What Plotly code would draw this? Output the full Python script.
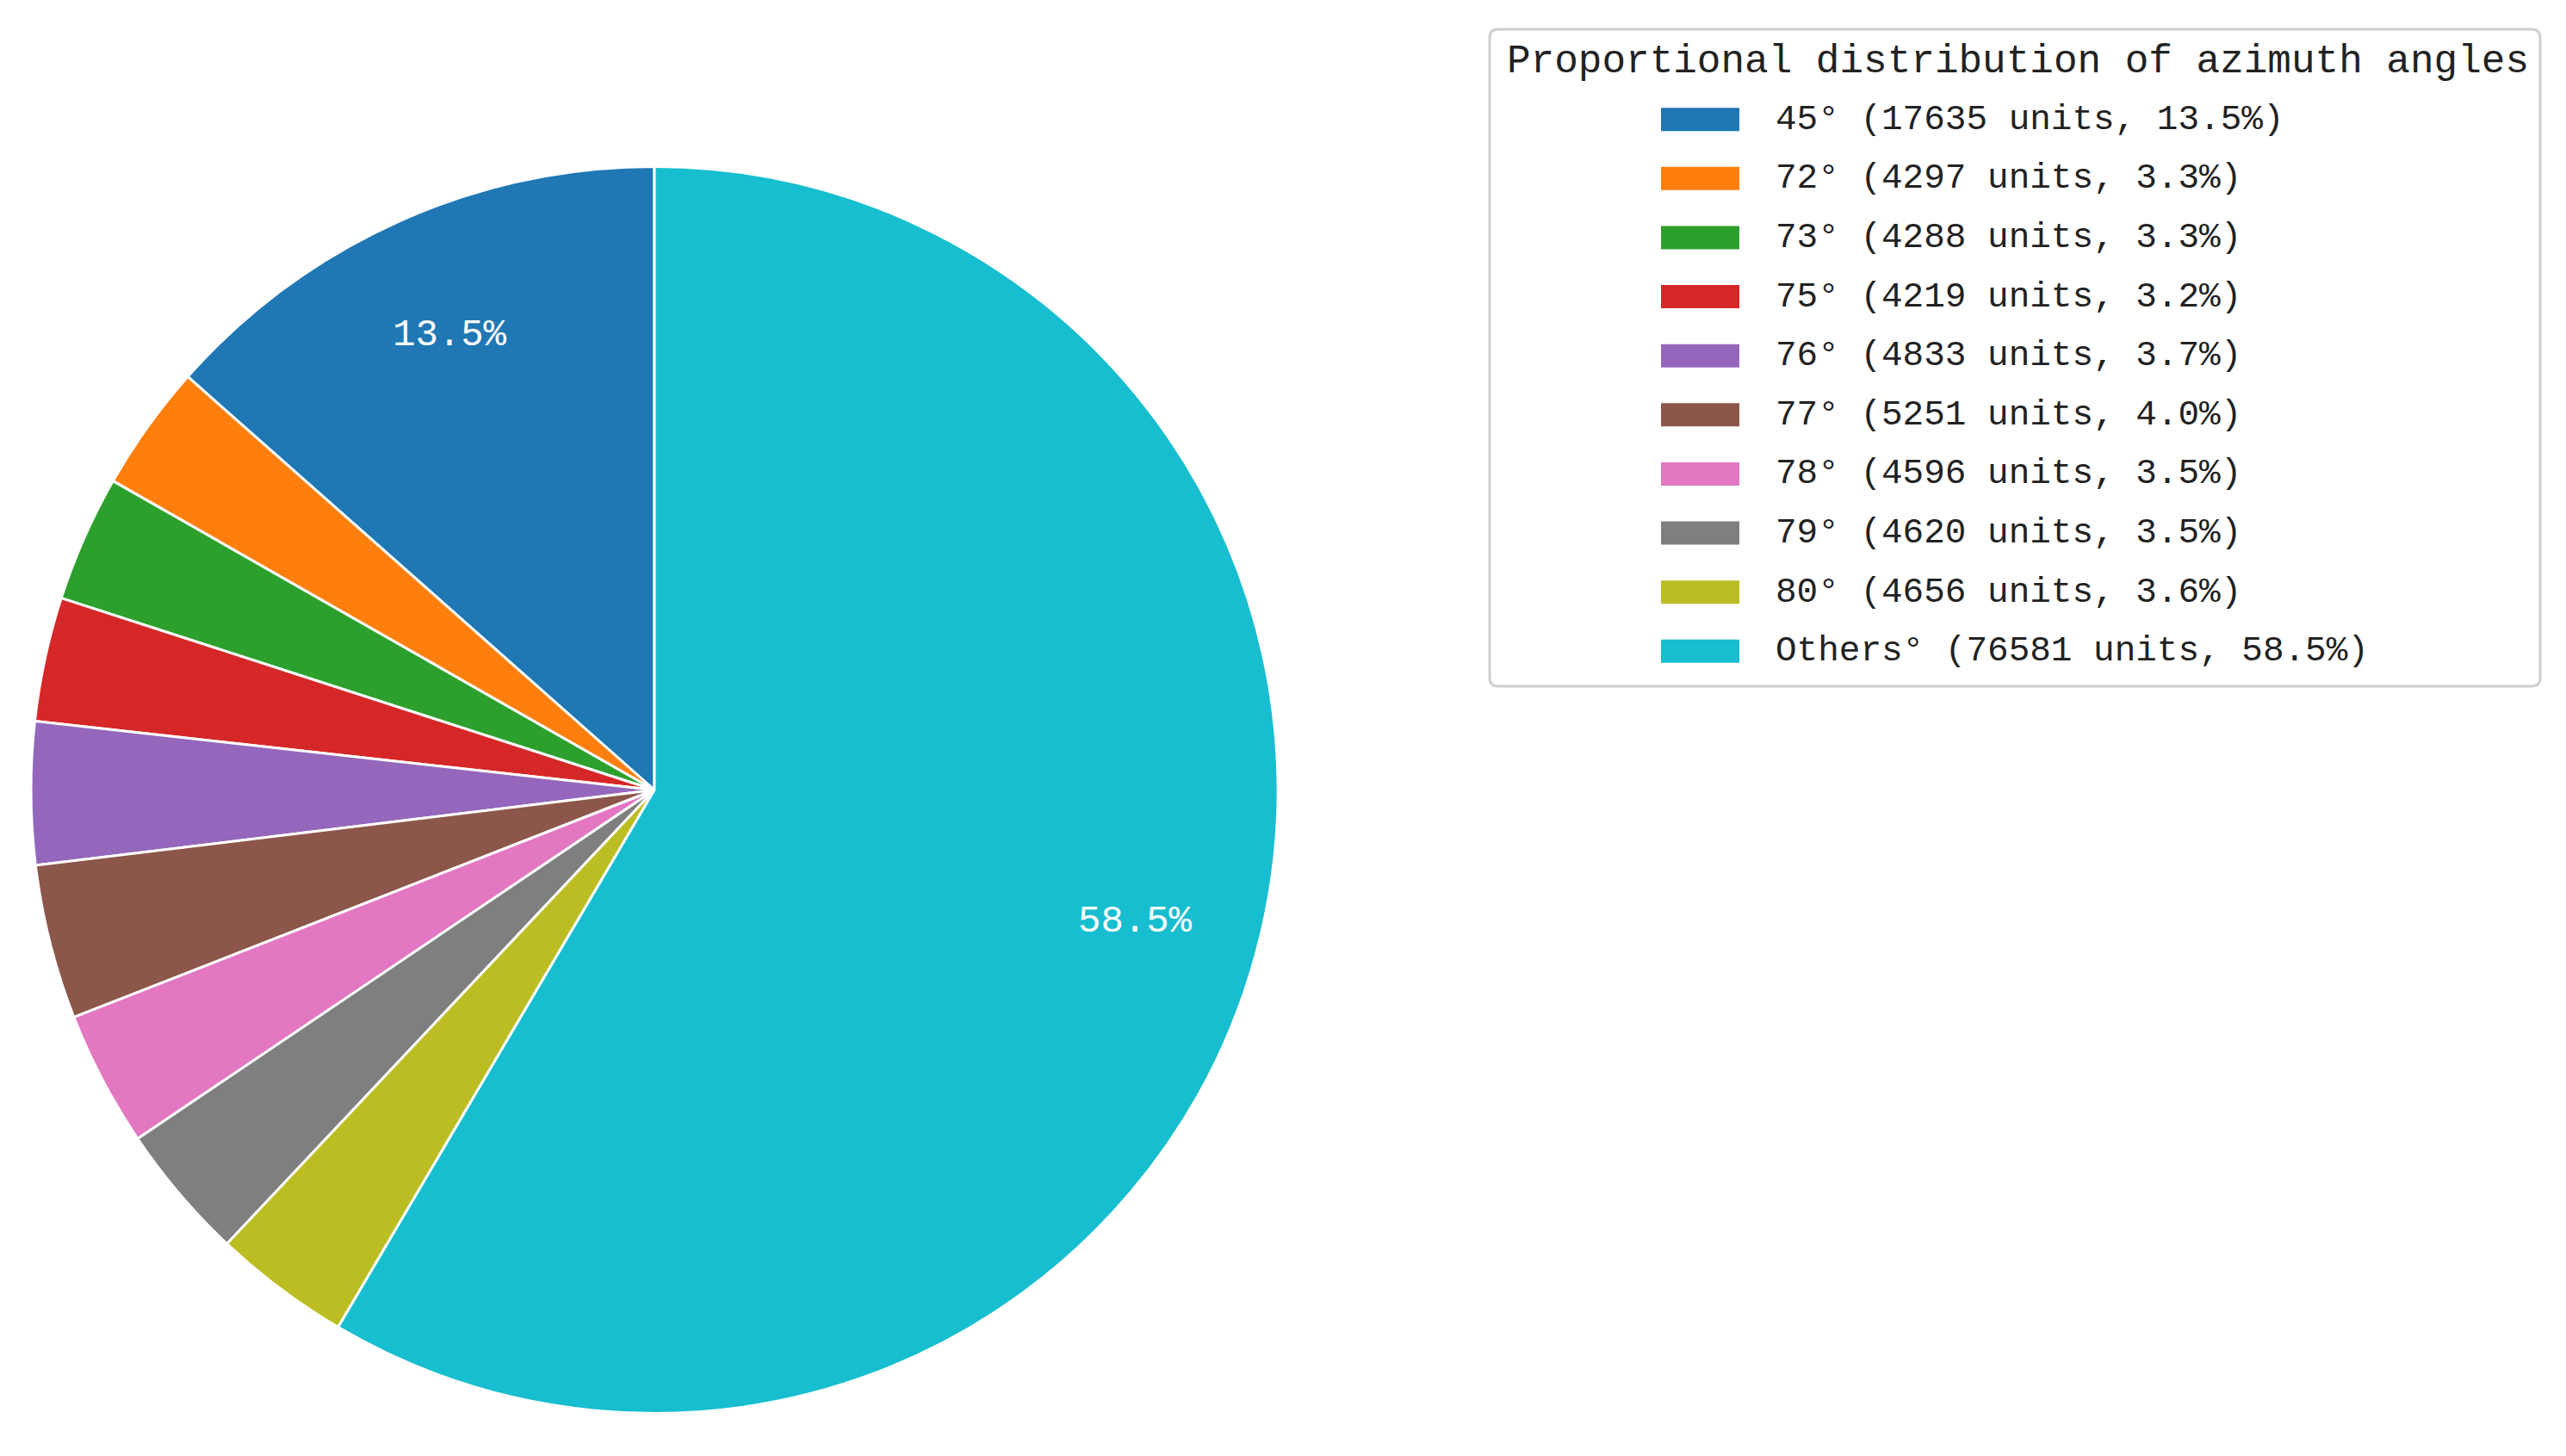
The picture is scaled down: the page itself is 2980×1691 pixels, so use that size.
import math
import plotly.graph_objects as go

# ---- data ----
categories = ["45", "72", "73", "75", "76", "77", "78", "79", "80", "Others"]
counts = [17635, 4297, 4288, 4219, 4833, 5251, 4596, 4620, 4656, 76581]
colors = ["#1f77b4", "#ff7f0e", "#2ca02c", "#d62728", "#9467bd",
          "#8c564b", "#e377c2", "#7f7f7f", "#bcbd22", "#17becf"]
legend_title = "Proportional distribution of azimuth angles"

W, H = 2980, 1691
FONT = "Liberation Mono, Courier New, monospace"

# pie geometry (pixels)
cx, cy, R = 760, 917.5, 724


def px(x):
    return x / W


def py(y):
    return 1 - y / H


total = sum(counts)
pcts = [c / total * 100 for c in counts]
labels = [f"{c}°" for c in categories]

fig = go.Figure()
fig.add_trace(go.Pie(
    labels=labels,
    values=counts,
    sort=False,
    direction="counterclockwise",
    # plotly's counterclockwise mode offsets by the first slice; undo so it starts at 12 o'clock
    rotation=-360 * counts[0] / total,
    marker=dict(colors=colors, line=dict(color="white", width=3)),
    textinfo="none",
    hoverinfo="label+value+percent",
    showlegend=False,
    domain=dict(x=[px(cx - R), px(cx + R)], y=[py(cy + R), py(cy - R)]),
))

annotations = []
# percentage labels for slices above 5 %, placed at 0.8 radius like autopct
cum = 0
for c, p in zip(counts, pcts):
    mid = (cum + c / 2) / total
    cum += c
    if p < 5:
        continue
    a = math.radians(90 + 360 * mid)
    x = cx + 0.8 * R * math.cos(a)
    y = cy - 0.8 * R * math.sin(a)
    annotations.append(dict(
        x=px(x), y=py(y), xref="paper", yref="paper",
        text=f"{p:.1f}%", showarrow=False,
        font=dict(family=FONT, size=44, color="white"),
        xanchor="center", yanchor="middle"))

# ---- manual legend ----
bx0, by0, bx1, by1, rr = 1730, 34, 2950, 797, 10
path = (
    f"M {px(bx0 + rr)} {py(by0)} L {px(bx1 - rr)} {py(by0)} "
    f"Q {px(bx1)} {py(by0)} {px(bx1)} {py(by0 + rr)} "
    f"L {px(bx1)} {py(by1 - rr)} Q {px(bx1)} {py(by1)} {px(bx1 - rr)} {py(by1)} "
    f"L {px(bx0 + rr)} {py(by1)} Q {px(bx0)} {py(by1)} {px(bx0)} {py(by1 - rr)} "
    f"L {px(bx0)} {py(by0 + rr)} Q {px(bx0)} {py(by0)} {px(bx0 + rr)} {py(by0)} Z"
)
shapes = [dict(type="path", xref="paper", yref="paper", path=path,
               line=dict(color="#cfcfcf", width=3), fillcolor="rgba(255,255,255,0.8)")]

annotations.append(dict(
    x=px(1748), y=py(72), xref="paper", yref="paper", text=legend_title,
    showarrow=False, xanchor="left", yanchor="middle",
    font=dict(family=FONT, size=46, color="#222222")))

row0, dy = 138.7, 68.63
for i, (lab, c, p, col) in enumerate(zip(labels, counts, pcts, colors)):
    yc = row0 + i * dy
    shapes.append(dict(type="rect", xref="paper", yref="paper",
                       x0=px(1929), x1=px(2020), y0=py(yc + 13.5), y1=py(yc - 13.5),
                       line=dict(width=0), fillcolor=col))
    annotations.append(dict(
        x=px(2060), y=py(yc), xref="paper", yref="paper",
        text=f"{lab} ({c} units, {p:.1f}%)", showarrow=False,
        xanchor="left", yanchor="middle",
        font=dict(family=FONT, size=41, color="#222222")))

fig.update_layout(
    width=W, height=H, autosize=False,
    margin=dict(l=0, r=0, t=0, b=0),
    paper_bgcolor="white", plot_bgcolor="white",
    shapes=shapes, annotations=annotations,
    showlegend=False,
)

fig.write_html("out.html")
